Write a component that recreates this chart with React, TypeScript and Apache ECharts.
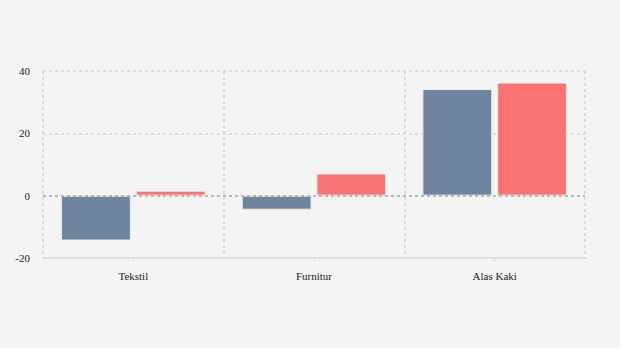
import React, { useEffect, useRef } from "react";
import * as echarts from "echarts";

const categories = ["Tekstil", "Furnitur", "Alas Kaki"];
const seriesA = [-14.4, -4.5, 34.2];
const seriesB = [1.6, 7.1, 36.3];
const yTicks = { min: -20, max: 40, interval: 20 };

export default function App() {
  const ref = useRef<HTMLDivElement>(null);
  useEffect(() => {
    document.body.style.margin = "0";
    if (!ref.current) return;
    const chart = echarts.init(ref.current, undefined, { renderer: "svg" });
    const font = "'Liberation Serif', 'Times New Roman', serif";
    const grid = { color: "#dcdcdc", type: [3, 3], width: 2 };
    chart.setOption({
      animation: false,
      backgroundColor: "#f4f4f4",
      textStyle: { fontFamily: font },
      grid: { left: 43, right: 35, top: 71, bottom: 90, containLabel: false },
      xAxis: {
        type: "category",
        data: categories,
        axisLine: { onZero: false, lineStyle: { color: "#e0e0e0", width: 2 } },
        axisTick: { show: true, alignWithLabel: true, lineStyle: { color: "#e0e0e0" }, length: 4 },
        axisLabel: { color: "#222", fontFamily: font, fontSize: 11, margin: 12 },
        splitLine: { show: true, lineStyle: grid },
      },
      yAxis: {
        type: "value",
        min: yTicks.min,
        max: yTicks.max,
        interval: yTicks.interval,
        axisLine: { show: false },
        axisTick: { show: false },
        axisLabel: { color: "#222", fontFamily: font, fontSize: 11, margin: 13 },
        splitLine: { show: true, lineStyle: grid },
      },
      series: [
        {
          type: "bar",
          data: seriesA,
          barGap: "7%",
          barCategoryGap: "20%",
          itemStyle: { color: "#6f849e", borderColor: "#ececec", borderWidth: 1 },
          markLine: {
            silent: true,
            symbol: "none",
            label: { show: false },
            lineStyle: { color: "#b8b8b8", type: [3, 3], width: 2 },
            data: [{ yAxis: 0 }],
          },
        },
        {
          type: "bar",
          data: seriesB,
          itemStyle: { color: "#f87474", borderColor: "#ececec", borderWidth: 1 },
        },
      ],
    });
    return () => chart.dispose();
  }, []);
  return <div ref={ref} style={{ width: 620, height: 348 }} />;
}
